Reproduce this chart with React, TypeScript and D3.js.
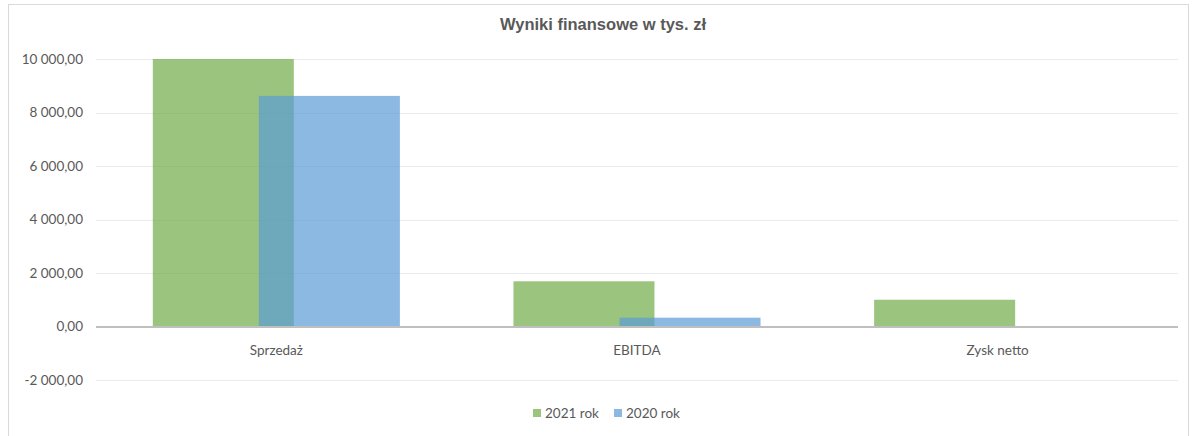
import React, { useEffect, useRef } from 'react';
import * as d3 from 'd3';

const categories = ['Sprzedaż', 'EBITDA', 'Zysk netto'];
const seriesNames = ['2021 rok', '2020 rok'];
const values2021 = [10000, 1690, 1000];
const values2020 = [8620, 330, 0];
const yTicks = [-2000, 0, 2000, 4000, 6000, 8000, 10000];

const App = () => {
  const ref = useRef<SVGSVGElement>(null);

  useEffect(() => {
    const svg = d3.select(ref.current);
    svg.selectAll('*').remove();

    const left = 96;
    const right = 1178;
    const colors = ['#70AD47', '#5B9BD5'];
    const series = [values2021, values2020];

    const pl = d3.formatLocale({ decimal: ',', thousands: ' ', grouping: [3], currency: ['', ' zł'], minus: '-' });
    const fmt = pl.format(',.2f');

    // ramka wykresu
    svg.append('rect')
      .attr('x', 8.5).attr('y', 4.5)
      .attr('width', 1180).attr('height', 440)
      .attr('fill', '#fff').attr('stroke', '#d9d9d9');

    const x0 = d3.scaleBand().domain(categories).range([left, right]).padding(0);
    const y = d3.scaleLinear().domain([-2000, 10000]).range([380, 59]);

    const bw = x0.bandwidth();
    const barW = bw * 0.391;
    const x1 = d3.scaleBand().domain(seriesNames).range([-bw * 0.294, bw * 0.294]).padding(0);

    // linie siatki
    svg.append('g')
      .selectAll('line')
      .data(yTicks.filter(t => t !== 0))
      .enter()
      .append('line')
      .attr('x1', left).attr('x2', right)
      .attr('y1', d => Math.round(y(d)) + 0.5).attr('y2', d => Math.round(y(d)) + 0.5)
      .attr('stroke', '#ebebeb').attr('stroke-width', 1);

    // etykiety osi Y
    svg.append('g')
      .selectAll('text')
      .data(yTicks)
      .enter()
      .append('text')
      .attr('x', 83)
      .attr('y', d => y(d))
      .attr('dy', '0.35em')
      .attr('text-anchor', 'end')
      .attr('font-family', 'Lato, sans-serif')
      .attr('font-size', 13.5)
      .attr('fill', '#595959')
      .text(d => fmt(d));

    // słupki
    series.forEach((vals, si) => {
      svg.append('g')
        .selectAll('rect')
        .data(vals)
        .enter()
        .append('rect')
        .attr('x', (d, i) => x0(categories[i])! + bw / 2 + x1(seriesNames[si])! + x1.bandwidth() / 2 - barW / 2)
        .attr('width', barW)
        .attr('y', d => y(Math.max(d, 0)))
        .attr('height', d => Math.abs(y(d) - y(0)))
        .attr('fill', colors[si])
        .attr('fill-opacity', 0.7);
    });

    // oś zero
    svg.append('line')
      .attr('x1', left).attr('x2', right)
      .attr('y1', y(0) + 0.5).attr('y2', y(0) + 0.5)
      .attr('stroke', '#bfbfbf').attr('stroke-width', 2);

    // kategorie
    svg.append('g')
      .selectAll('text')
      .data(categories)
      .enter()
      .append('text')
      .attr('x', d => x0(d)! + bw / 2)
      .attr('y', 350)
      .attr('dy', '0.35em')
      .attr('text-anchor', 'middle')
      .attr('font-family', 'Lato, sans-serif')
      .attr('font-size', 13.5)
      .attr('fill', '#595959')
      .text(d => d);

    // tytuł
    svg.append('text')
      .attr('x', 603).attr('y', 30)
      .attr('text-anchor', 'middle')
      .attr('font-family', '"Liberation Sans", Arial, sans-serif')
      .attr('font-weight', 'bold')
      .attr('font-size', 16.5)
      .attr('fill', '#595959')
      .text('Wyniki finansowe w tys. zł');

    // legenda
    const legend = svg.append('g')
      .selectAll('g')
      .data(seriesNames)
      .enter()
      .append('g')
      .attr('transform', (d, i) => 'translate(' + (533 + i * 81) + ',413)');
    legend.append('rect')
      .attr('x', 0).attr('y', -4)
      .attr('width', 8).attr('height', 8)
      .attr('fill', (d, i) => colors[i])
      .attr('fill-opacity', 0.7);
    legend.append('text')
      .attr('x', 12).attr('y', 0)
      .attr('dy', '0.35em')
      .attr('font-family', 'Lato, sans-serif')
      .attr('font-size', 13.5)
      .attr('fill', '#595959')
      .text(d => d);
  }, []);

  return (
    <svg ref={ref} width={1193} height={436} style={{ position: 'absolute', left: 0, top: 0, background: '#fff' }} />
  );
};

export default App;
